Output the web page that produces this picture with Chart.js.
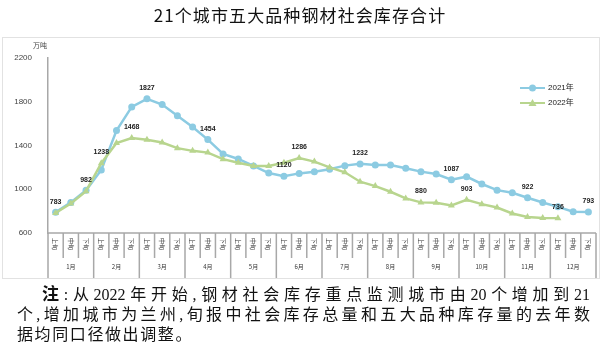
<!DOCTYPE html>
<html>
<head>
<meta charset="utf-8">
<script src="https://cdn.jsdelivr.net/npm/chart.js@4"></script>
<style>
  body { margin: 0; background: #fff; }
  .wrap { position: relative; width: 600px; height: 354px; overflow: hidden; }
  canvas { position: absolute; left: 0; top: 0; }
  .title {
    position: absolute; left: 0; top: 3px; width: 600px; text-align: center;
    font: 17px "Noto Sans CJK SC", sans-serif; letter-spacing: 1.1px; color: #111;
    line-height: 24px;
  }
  .note {
    position: absolute; left: 17px; top: 283px; width: 573px;
    font: 16px "Liberation Serif", "Noto Sans CJK SC", serif; line-height: 20px; color: #111;
  }
  .note div { text-align: justify; text-align-last: justify; white-space: nowrap; }
  .note div.last { text-align-last: left; letter-spacing: 1.6px; }
  .note b { font-family: "Noto Sans CJK SC", sans-serif; font-weight: 700; font-size: 17px; }
</style>
</head>
<body>
<div class="wrap">
  <canvas id="stock-chart" width="600" height="354"></canvas>
  <div class="title">21个城市五大品种钢材社会库存合计</div>
  <div class="note">
    <div style="padding-left:25px"><b>注</b>:从2022年开始,钢材社会库存重点监测城市由20个增加到21</div>
    <div>个,增加城市为兰州,旬报中社会库存总量和五大品种库存量的去年数</div>
    <div class="last">据均同口径做出调整。</div>
  </div>
</div>
<script>
const months = ['1月', '2月', '3月', '4月', '5月', '6月', '7月', '8月', '9月', '10月', '11月', '12月'];
const tenDays = ['上旬', '中旬', '下旬'];
const periods = months.flatMap(m => tenDays.map(d => m + d));

const stock2021 = [790, 880, 990, 1176, 1537, 1753, 1827, 1774, 1673, 1569, 1454, 1323,
  1277, 1213, 1148, 1120, 1145, 1160, 1183, 1216, 1232, 1222, 1222, 1192,
  1161, 1139, 1087, 1115, 1048, 992, 968, 922, 879, 839, 795, 793];
const stock2022 = [783, 870, 982, 1238, 1422, 1468, 1452, 1427, 1376, 1351, 1335, 1275,
  1243, 1213, 1213, 1243, 1286, 1253, 1200, 1155, 1069, 1029, 977, 916,
  880, 876, 852, 903, 864, 833, 778, 747, 738, 736];

// which points carry a value label
const labeled2021 = [6, 10, 15, 20, 26, 31, 35];
const labeled2022 = [0, 2, 3, 5, 16, 24, 27, 33];

const yTicks = [600, 1000, 1400, 1800, 2200];

const BLUE = '#8ccbe2';
const GREEN = '#b8d58e';
const GRID = '#a8a8a8';

const tablePlugin = {
  id: 'tableAxis',
  afterDraw(chart) {
    const { ctx, chartArea } = chart;
    const { left, right, bottom } = chartArea;
    const w = (right - left) / periods.length;
    ctx.save();
    // outer frame
    ctx.strokeStyle = '#e2e2e2';
    ctx.lineWidth = 1;
    ctx.strokeRect(2.5, 37.5, 597, 241);

    ctx.strokeStyle = GRID;
    ctx.lineWidth = 1.5;
    ctx.beginPath();
    ctx.moveTo(left, bottom);
    ctx.lineTo(right, bottom);
    for (let i = 0; i <= periods.length; i++) {
      const x = left + i * w;
      ctx.moveTo(x, bottom);
      ctx.lineTo(x, i % 3 === 0 ? 278 : bottom + 25);
    }
    ctx.stroke();

    ctx.fillStyle = '#333';
    ctx.font = '6px "Noto Sans CJK SC"';
    ctx.textAlign = 'center';
    ctx.textBaseline = 'middle';
    periods.forEach((p, i) => {
      const x = left + (i + 0.5) * w;
      ctx.save();
      ctx.translate(x, bottom + 11);
      ctx.rotate(Math.PI / 2);
      ctx.fillText(tenDays[i % 3], 0, 0);
      ctx.restore();
    });
    months.forEach((m, k) => {
      ctx.fillText(m, left + (k * 3 + 1.5) * w, bottom + 34);
    });

    // unit
    ctx.font = '7px "Noto Sans CJK SC"';
    ctx.fillStyle = '#444';
    ctx.fillText('万吨', 40, 45);
    ctx.restore();
  }
};

const valueLabels = {
  id: 'valueLabels',
  afterDatasetsDraw(chart) {
    const { ctx } = chart;
    ctx.save();
    ctx.font = 'bold 7px "Liberation Sans"';
    ctx.fillStyle = '#222';
    ctx.textAlign = 'center';
    ctx.textBaseline = 'middle';
    const sets = [labeled2021, labeled2022];
    chart.data.datasets.forEach((ds, d) => {
      const meta = chart.getDatasetMeta(d);
      sets[d].forEach(i => {
        const pt = meta.data[i];
        ctx.fillText(String(ds.data[i]), pt.x, pt.y - 11);
      });
    });
    ctx.restore();
  }
};

const legendPlugin = {
  id: 'innerLegend',
  afterDraw(chart) {
    const { ctx } = chart;
    ctx.save();
    ctx.font = '8px "Liberation Sans", "Noto Sans CJK SC"';
    ctx.textBaseline = 'middle';
    ctx.textAlign = 'left';
    chart.data.datasets.forEach((ds, d) => {
      const y = 88 + d * 15;
      ctx.strokeStyle = ds.borderColor;
      ctx.fillStyle = ds.borderColor;
      ctx.lineWidth = 2;
      ctx.beginPath();
      ctx.moveTo(520, y);
      ctx.lineTo(545, y);
      ctx.stroke();
      if (ds.pointStyle === 'triangle') {
        ctx.beginPath();
        ctx.moveTo(532.5, y - 4);
        ctx.lineTo(536.5, y + 3);
        ctx.lineTo(528.5, y + 3);
        ctx.closePath();
        ctx.fill();
      } else {
        ctx.beginPath();
        ctx.arc(532.5, y, 3.5, 0, Math.PI * 2);
        ctx.fill();
      }
      ctx.fillStyle = '#222';
      ctx.fillText(ds.label, 548, y);
    });
    ctx.restore();
  }
};

const ctx = document.getElementById('stock-chart').getContext('2d');

new Chart(ctx, {
  type: 'line',
  data: {
    labels: periods,
    datasets: [
      {
        label: '2021年',
        data: stock2021,
        borderColor: BLUE,
        backgroundColor: BLUE,
        borderWidth: 2.5,
        pointStyle: 'circle',
        pointRadius: 3.5,
        pointBorderWidth: 0,
        tension: 0,
        order: 1
      },
      {
        label: '2022年',
        data: stock2022,
        borderColor: GREEN,
        backgroundColor: GREEN,
        borderWidth: 2.5,
        pointStyle: 'triangle',
        pointRadius: 4,
        pointBorderWidth: 0,
        tension: 0,
        order: 0
      }
    ]
  },
  options: {
    responsive: false,
    animation: false,
    layout: { padding: { top: 58, right: 2, bottom: 121, left: 0 } },
    plugins: {
      legend: { display: false },
      tooltip: { enabled: false },
      title: { display: false }
    },
    scales: {
      x: { display: false, offset: true },
      y: {
        min: 600,
        max: 2200,
        afterBuildTicks: scale => { scale.ticks = yTicks.map(v => ({ value: v })); },
        afterFit: scale => { scale.width = 48; },
        ticks: {
          padding: 16,
          color: '#444',
          font: { family: 'Liberation Sans', size: 8 },
          callback: v => String(v)
        },
        grid: { display: false, drawTicks: false },
        border: { display: true, color: GRID, width: 1.5 }
      }
    }
  },
  plugins: [tablePlugin, valueLabels, legendPlugin]
});
</script>
</body>
</html>
